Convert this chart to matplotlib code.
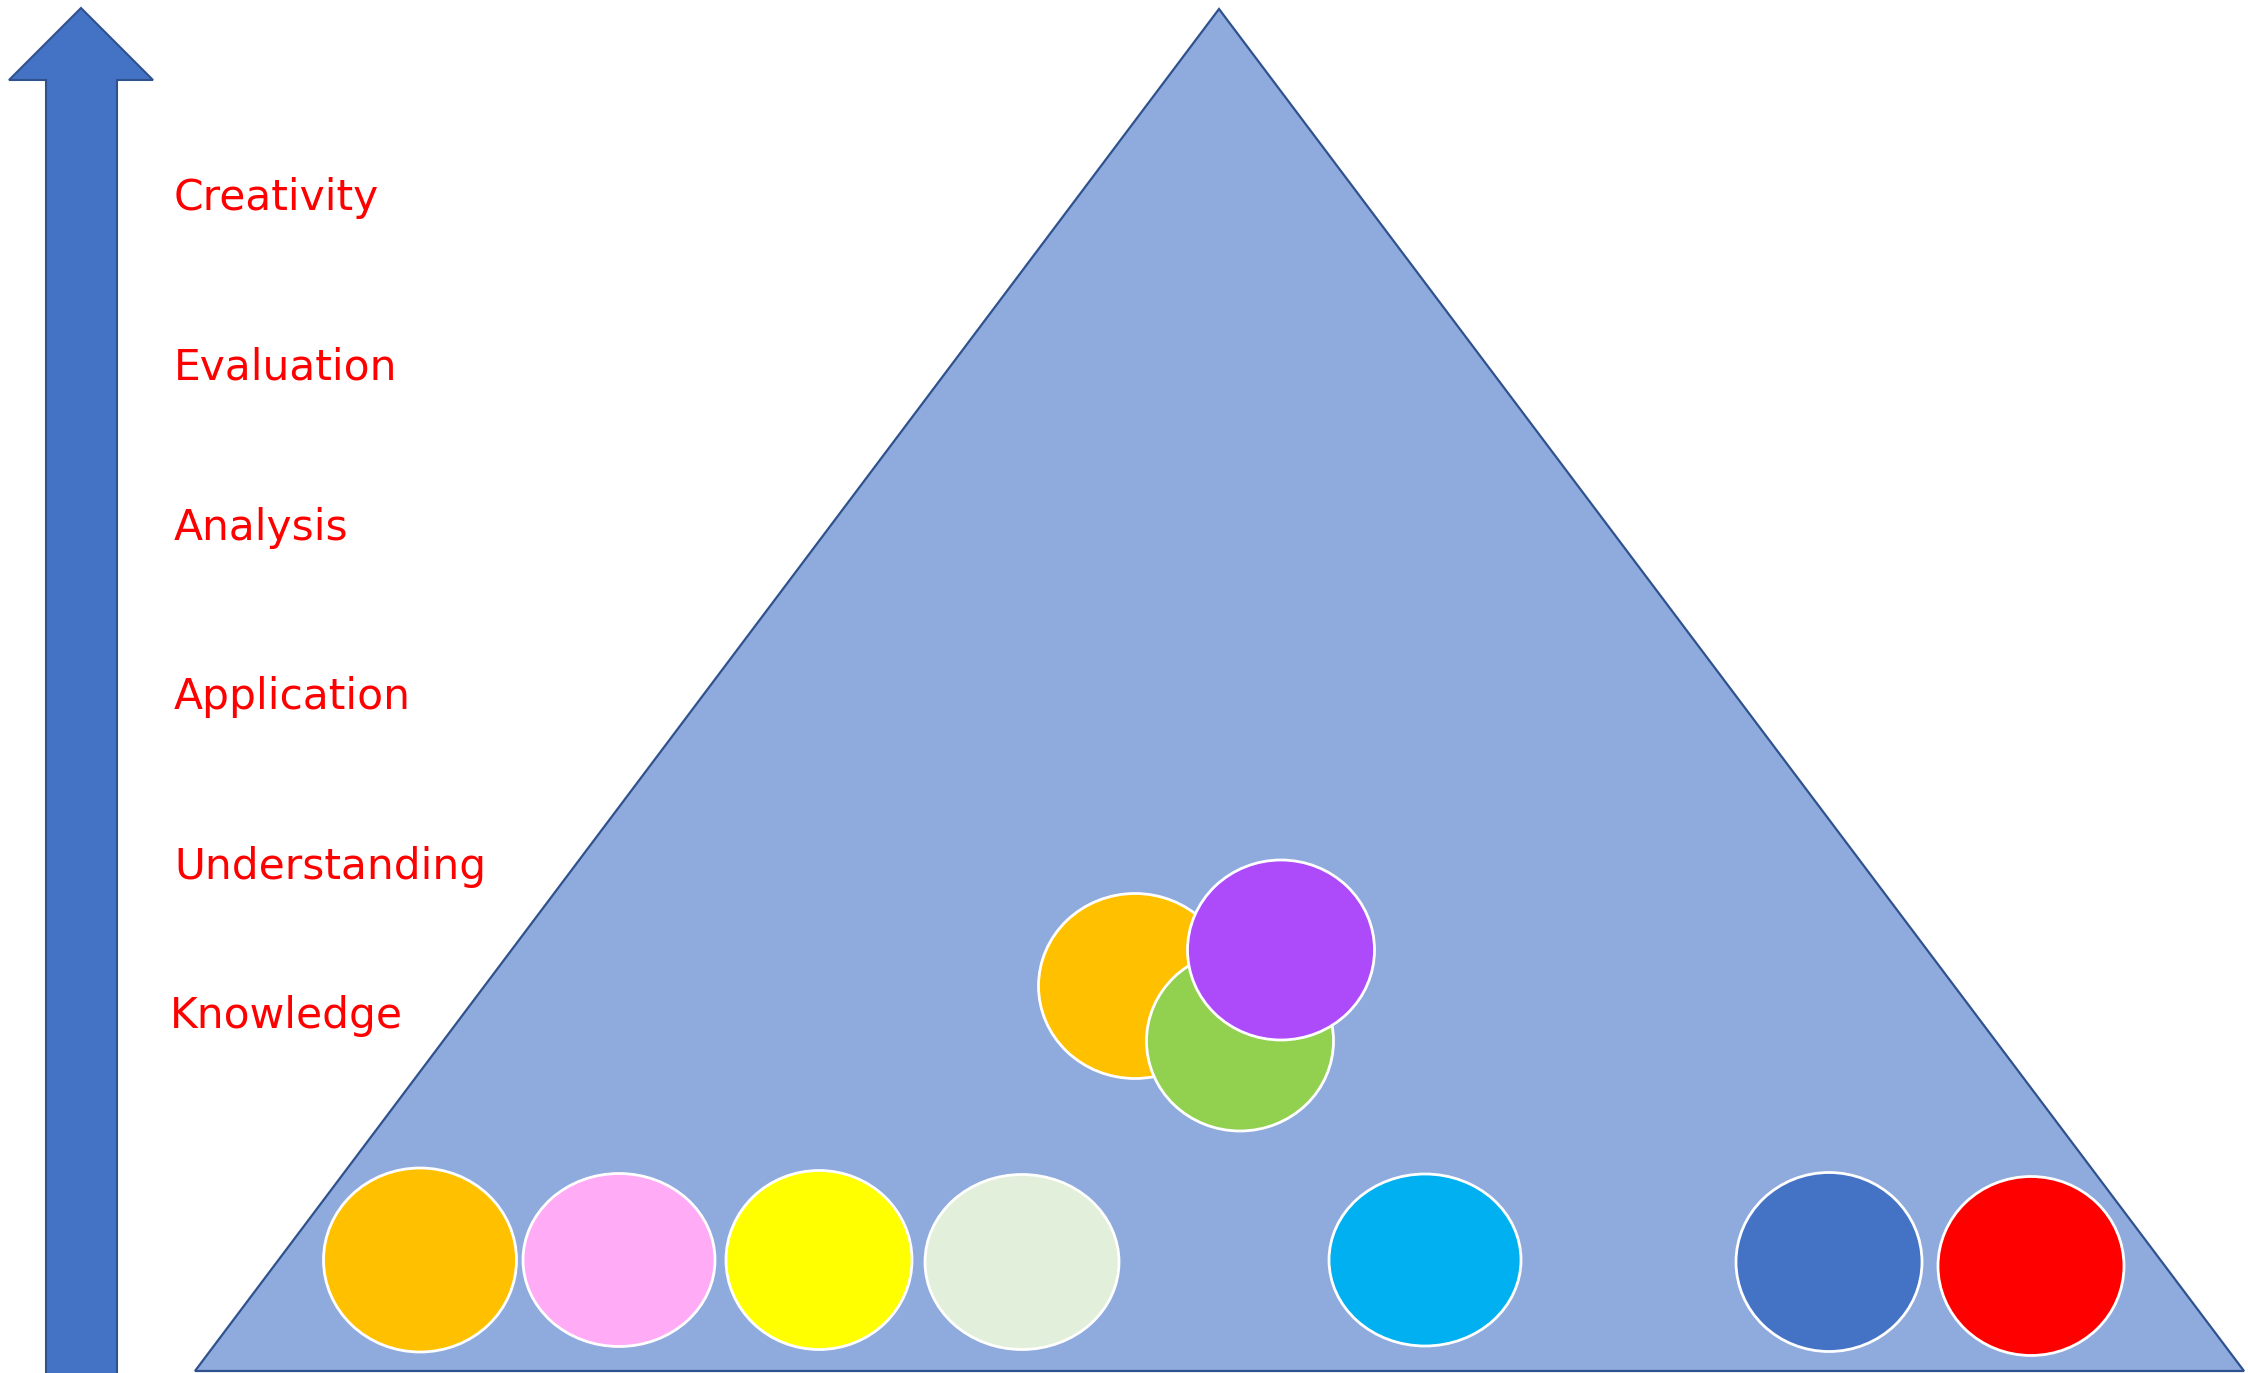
import matplotlib
matplotlib.use("Agg")
import matplotlib.pyplot as plt
from matplotlib.patches import Polygon, Ellipse

# level labels, bottom of the list is the top of the pyramid
levels = ["Creativity", "Evaluation", "Analysis", "Application", "Understanding", "Knowledge"]
level_baseline = [210, 380, 540, 709, 879, 1028]
level_x = [174, 174, 174, 174, 174, 170]

# circles: centre x, centre y, width, height, colour (drawn in order)
dot_x = [420, 619, 819, 1022, 1425, 1829, 2031, 1135, 1240, 1281]
dot_y = [1260, 1260, 1260, 1262, 1260, 1262, 1266, 986, 1041, 950]
dot_w = [193, 192, 186, 194, 192, 186, 186, 193, 187, 187]
dot_h = [184, 173, 179, 175, 172, 179, 179, 185, 180, 180]
dot_colors = ["#FFC000", "#FFABF5", "#FFFF00", "#E2EFDA", "#00B0F0",
              "#4472C4", "#FF0000", "#FFC000", "#92D050", "#AD4AFA"]

W, H = 2248, 1373
fig = plt.figure(figsize=(W / 100, H / 100), dpi=100)
ax = fig.add_axes([0, 0, 1, 1])
ax.set_xlim(0, W)
ax.set_ylim(H, 0)
ax.axis("off")

# big arrow on the left
arrow = [(81, 8), (153, 80), (117, 80), (117, H + 5), (46, H + 5), (46, 80), (9, 80)]
ax.add_patch(Polygon(arrow, closed=True, facecolor="#4472C4", edgecolor="#2F528F", lw=1.5))

# pyramid
tri = [(1219, 9), (2244, 1371), (195, 1371)]
ax.add_patch(Polygon(tri, closed=True, facecolor="#8FAADC", edgecolor="#2F528F", lw=1.6))

for x, y, w, h, c in zip(dot_x, dot_y, dot_w, dot_h, dot_colors):
    ax.add_patch(Ellipse((x, y), w, h, facecolor=c, edgecolor="white", lw=2))

for name, xl, yb in zip(levels, level_x, level_baseline):
    ax.text(xl, yb, name, color="#FF0000", fontsize=30.5, family="DejaVu Sans",
            va="baseline", ha="left")

fig.savefig("out.png", dpi=100)
